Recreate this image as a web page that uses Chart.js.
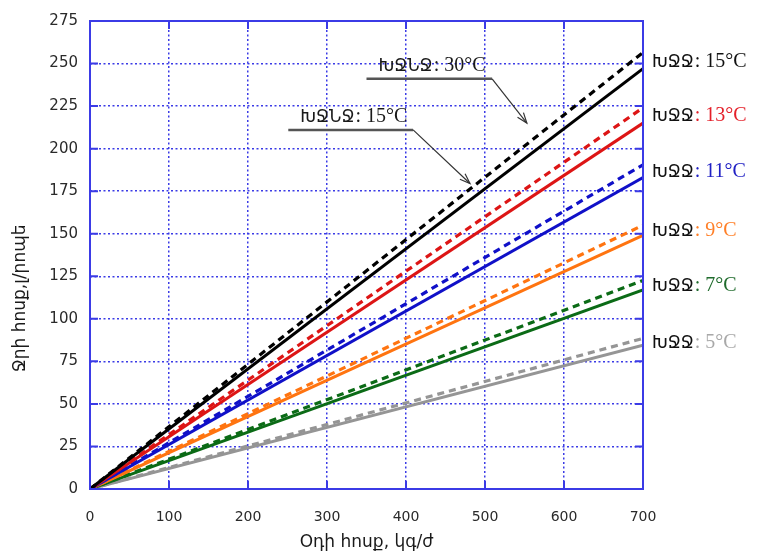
<!DOCTYPE html>
<html>
<head>
<meta charset="utf-8">
<script src="https://cdn.jsdelivr.net/npm/chart.js@4.4.1/dist/chart.umd.min.js"></script>
<style>
  html, body { margin: 0; padding: 0; background: #fff; }
  #wrap { width: 757px; height: 554px; }
</style>
</head>
<body>
<div id="wrap"><canvas id="grafico"></canvas></div>
<script>
// Օդի հոսք (x), կգ/ժ
const airFlow = [0, 700];

// Ջրի հոսք, լ/րոպե — dashed: ԽՋՆՋ 30°C, solid: ԽՋՆՋ 15°C
const water15At30 = [0, 256.5];
const water15At15 = [0, 247];
const water13At30 = [0, 224];
const water13At15 = [0, 215];
const water11At30 = [0, 190.5];
const water11At15 = [0, 183];
const water9At30 = [0, 155];
const water9At15 = [0, 149];
const water7At30 = [0, 122.5];
const water7At15 = [0, 117];
const water5At30 = [0, 88.5];
const water5At15 = [0, 84.5];

const tempLabels = ['15°C', '13°C', '11°C', '9°C', '7°C', '5°C'];
const tempColors = ['#000000', '#dd1515', '#1010c8', '#ff7410', '#0b6b16', '#959595'];
const labelColors = ['#111111', '#e4202a', '#2020c4', '#ff7f27', '#1f6b2c', '#a8a8a8'];

const xTicks = [0, 100, 200, 300, 400, 500, 600, 700];
const yTicks = [0, 25, 50, 75, 100, 125, 150, 175, 200, 225, 250, 275];

const pairs = [
  [water15At30, water15At15],
  [water13At30, water13At15],
  [water11At30, water11At15],
  [water9At30, water9At15],
  [water7At30, water7At15],
  [water5At30, water5At15]
];

const pts = arr => arr.map((v, i) => ({ x: airFlow[i], y: v }));

const datasets = [];
pairs.forEach((p, i) => {
  datasets.push({
    data: pts(p[1]), borderColor: tempColors[i], borderWidth: 3,
    pointRadius: 0, fill: false
  });
  datasets.push({
    data: pts(p[0]), borderColor: tempColors[i], borderWidth: 3.2,
    borderDash: [7, 5], pointRadius: 0, fill: false
  });
});

// callouts in data units: underline from/to, arrow tip
const callouts = [
  { name: 'ԽՋՆՋ', temp: ': 30°C', x1: 350, x2: 509, y: 241, tipX: 553, tipY: 215 },
  { name: 'ԽՋՆՋ', temp: ': 15°C', x1: 251, x2: 409, y: 211, tipX: 481, tipY: 179.5 }
];

const blue = '#3b3be6';
const serif = '"Liberation Serif", "DejaVu Serif", serif';
const armFont = '17px "DejaVu Sans", sans-serif';

const decor = {
  id: 'decor',
  afterDatasetsDraw(chart) {
    const { ctx, chartArea: a, scales: { x, y } } = chart;
    ctx.save();

    // marco
    ctx.strokeStyle = blue;
    ctx.lineWidth = 2;
    ctx.strokeRect(a.left, a.top, a.right - a.left, a.bottom - a.top);

    // ticks hacia dentro
    ctx.beginPath();
    yTicks.forEach(v => {
      const py = y.getPixelForValue(v);
      ctx.moveTo(a.left, py); ctx.lineTo(a.left + 8, py);
      ctx.moveTo(a.right, py); ctx.lineTo(a.right - 8, py);
    });
    xTicks.forEach(v => {
      const px = x.getPixelForValue(v);
      ctx.moveTo(px, a.bottom); ctx.lineTo(px, a.bottom - 8);
      ctx.moveTo(px, a.top); ctx.lineTo(px, a.top + 8);
    });
    ctx.stroke();

    // etiquetas derecha (ԽՋՋ)
    ctx.textBaseline = 'alphabetic';
    ctx.textAlign = 'left';
    pairs.forEach((p, i) => {
      const mid = (p[0][1] + p[1][1]) / 2;
      const py = y.getPixelForValue(mid) + 6;
      const px = a.right + 9;
      ctx.font = armFont;
      ctx.fillStyle = '#111';
      ctx.fillText('ԽՋՋ', px, py);
      const w = ctx.measureText('ԽՋՋ').width;
      ctx.font = '20px ' + serif;
      ctx.fillStyle = labelColors[i];
      ctx.fillText(': ' + tempLabels[i], px + w + 1, py);
    });

    // flechas
    callouts.forEach(c => {
      const x1 = x.getPixelForValue(c.x1), x2 = x.getPixelForValue(c.x2);
      const py = y.getPixelForValue(c.y);
      const tx = x.getPixelForValue(c.tipX), ty = y.getPixelForValue(c.tipY);
      ctx.strokeStyle = '#555';
      ctx.lineWidth = 2.5;
      ctx.beginPath(); ctx.moveTo(x1, py); ctx.lineTo(x2, py); ctx.stroke();
      ctx.strokeStyle = '#333';
      ctx.lineWidth = 1.2;
      ctx.beginPath(); ctx.moveTo(x2, py); ctx.lineTo(tx, ty); ctx.stroke();
      const ang = Math.atan2(ty - py, tx - x2);
      ctx.beginPath();
      ctx.moveTo(tx - 11 * Math.cos(ang - 0.35), ty - 11 * Math.sin(ang - 0.35));
      ctx.lineTo(tx, ty);
      ctx.lineTo(tx - 11 * Math.cos(ang + 0.35), ty - 11 * Math.sin(ang + 0.35));
      ctx.stroke();
      ctx.fillStyle = '#1a1a1a';
      ctx.textBaseline = 'alphabetic';
      ctx.textAlign = 'left';
      ctx.font = '17px "DejaVu Sans", sans-serif';
      ctx.fillText(c.name, x1 + 12, py - 8);
      const w = ctx.measureText(c.name).width;
      ctx.font = '20px ' + serif;
      ctx.fillText(c.temp, x1 + 13 + w, py - 8);
    });

    // titulo eje y
    ctx.save();
    ctx.translate(21, y.getPixelForValue(112));
    ctx.rotate(-Math.PI / 2);
    ctx.textAlign = 'center';
    ctx.textBaseline = 'middle';
    ctx.fillStyle = '#1a1a1a';
    ctx.font = '17px "DejaVu Sans", sans-serif';
    ctx.fillText('Ջրի հոսք,լ/րոպե', 0, 0);
    ctx.restore();

    ctx.restore();
  }
};

const ctx = document.getElementById('grafico').getContext('2d');
new Chart(ctx, {
  type: 'line',
  data: { datasets },
  plugins: [decor],
  options: {
    responsive: true,
    maintainAspectRatio: false,
    animation: false,
    layout: { padding: { left: 0, right: 114, top: 20, bottom: 0 } },
    plugins: { legend: { display: false }, tooltip: { enabled: false } },
    scales: {
      x: {
        type: 'linear', min: 0, max: 700,
        afterFit: s => { s.height = 65; },
        afterBuildTicks: s => { s.ticks = xTicks.map(v => ({ value: v })); },
        grid: { color: blue, lineWidth: 1.5, drawTicks: false },
        border: { display: false, dash: [2, 2.5] },
        ticks: { padding: 20, color: '#2a2a2a', font: { family: 'DejaVu Sans', size: 14 } },
        title: {
          display: true, text: 'Օդի հոսք, կգ/ժ', color: '#1a1a1a',
          font: { family: 'DejaVu Sans', size: 17 }, padding: { top: 0, bottom: 1 }
        }
      },
      y: {
        min: 0, max: 275,
        afterFit: s => { s.width = 90; },
        afterBuildTicks: s => { s.ticks = yTicks.map(v => ({ value: v })); },
        grid: { color: blue, lineWidth: 1.5, drawTicks: false },
        border: { display: false, dash: [2, 2.5] },
        ticks: { padding: 12, color: '#2a2a2a', font: { family: 'DejaVu Sans', size: 15 } }
      }
    }
  }
});
</script>
</body>
</html>
